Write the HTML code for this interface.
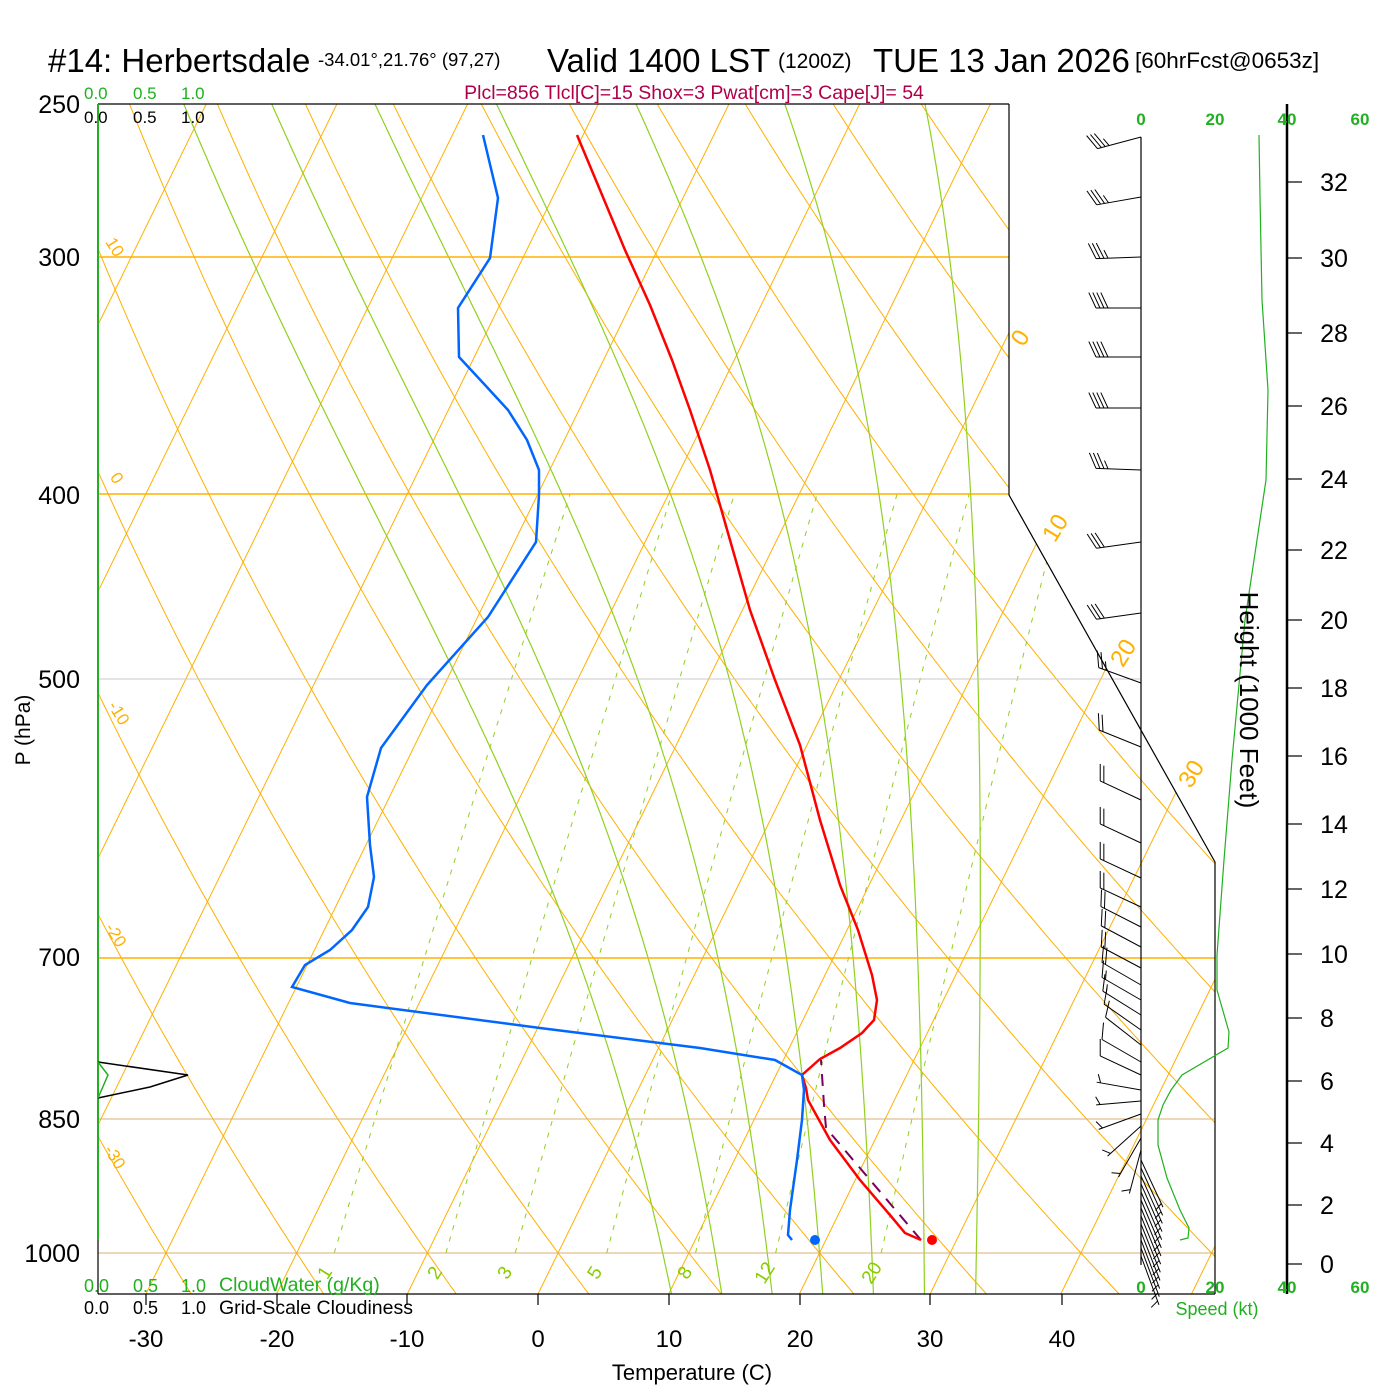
<!DOCTYPE html>
<html><head><meta charset="utf-8"><style>
html,body{margin:0;padding:0;background:#fff;}
svg{display:block;font-family:"Liberation Sans",sans-serif;}
</style></head><body>
<svg id="s" width="1400" height="1400" viewBox="0 0 1400 1400" xmlns="http://www.w3.org/2000/svg">
<defs><clipPath id="cp"><polygon points="98,104 1009,104 1009,495 1215,862 1215,1294 98,1294"/></clipPath></defs>
<g id="bg" clip-path="url(#cp)"></g>
<g stroke="#FFB000" fill="none">
<line x1="98" y1="257" x2="1009" y2="257" stroke-width="1.5"/>
<line x1="98" y1="494" x2="1009" y2="494" stroke-width="1.5"/>
<line x1="98" y1="679" x2="1140" y2="679" stroke="#c8c8c8" stroke-width="1"/>
<line x1="98" y1="958" x2="1215" y2="958" stroke-width="1.5"/>
<line x1="98" y1="1119" x2="1215" y2="1119" stroke="#d8b070" stroke-width="1"/>
<line x1="98" y1="1253" x2="1215" y2="1253" stroke="#d8b070" stroke-width="1"/>
</g>
<g stroke="#000" fill="none" stroke-width="1.2">
<line x1="98" y1="104" x2="1009" y2="104"/>
<polyline points="1009,104 1009,495 1215,862 1215,1294"/>
<line x1="98" y1="1294" x2="1215" y2="1294"/>
<line x1="98" y1="1240" x2="98" y2="1294"/>
<line x1="1141" y1="137" x2="1141" y2="1265"/>
<line x1="1287" y1="104" x2="1287" y2="1294" stroke-width="2.5"/>
</g>
<line x1="98" y1="104" x2="98" y2="1240" stroke="#20b020" stroke-width="2"/>
<g stroke="#000" stroke-width="1.2" id="ticks"></g>
<polyline points="98,1062 188,1075 150,1087 98,1098" fill="none" stroke="#000" stroke-width="1.5"/>
<polyline points="98,1062 108,1075 98,1098" fill="none" stroke="#20b020" stroke-width="1.5"/>
<g id="barbs" stroke="#000" stroke-width="1" fill="none"></g>
<polyline fill="none" stroke="#20b020" stroke-width="1.2" points="1259,135 1260,197 1262,300 1268,390 1266,480 1245,620 1232,760 1224,860 1217,955 1217,990 1229,1032 1228,1048 1182,1075 1171,1090 1163,1105 1158,1120 1158,1145 1167,1178 1180,1210 1189,1228 1188,1238 1180,1240"/>
<polyline fill="none" stroke="#780060" stroke-width="2" stroke-dasharray="12,9" points="921,1240 826,1128 824,1105 821,1060"/>
<polyline fill="none" stroke="#ff0000" stroke-width="2.5" points="577,135 600,190 625,250 650,305 672,360 690,410 710,470 730,540 750,610 775,680 800,745 820,820 840,885 858,930 872,975 877,1000 874,1020 862,1033 840,1048 820,1059 802,1075 806,1088 808,1100 830,1140 860,1180 890,1215 905,1233 921,1240"/>
<polyline fill="none" stroke="#0066ff" stroke-width="2.5" points="483,135 498,198 490,258 458,308 459,357 485,385 508,410 527,440 539,470 539,495 536,542 488,617 427,685 381,748 367,797 370,845 374,877 368,907 352,930 330,950 305,965 292,987 350,1003 540,1028 700,1048 775,1060 802,1075 804,1090 802,1120 797,1160 790,1210 788,1235 792,1240"/>
<circle cx="815" cy="1240" r="5" fill="#0066ff"/>
<circle cx="932" cy="1240" r="5" fill="#ff0000"/>
<g fill="#000">
<text x="48" y="72" font-size="33">#14: Herbertsdale</text>
<text x="318" y="66" font-size="18.5">-34.01°,21.76° (97,27)</text>
<text x="547" y="72" font-size="33">Valid 1400 LST</text>
<text x="778" y="68" font-size="21">(1200Z)</text>
<text x="873" y="72" font-size="33">TUE 13 Jan 2026</text>
<text x="1135" y="68" font-size="22.5">[60hrFcst@0653z]</text>
</g>
<text x="694" y="99" font-size="19.5" fill="#b0004a" text-anchor="middle">Plcl=856 Tlcl[C]=15 Shox=3 Pwat[cm]=3 Cape[J]= 54</text>
<g font-size="25" text-anchor="end" fill="#000">
<text x="80" y="113">250</text><text x="80" y="266">300</text><text x="80" y="504">400</text>
<text x="80" y="688">500</text><text x="80" y="966">700</text><text x="80" y="1128">850</text><text x="80" y="1262">1000</text>
</g>
<text transform="translate(30,730) rotate(-90)" font-size="21" text-anchor="middle">P (hPa)</text>
<g font-size="17" fill="#20b020"><text x="84" y="99">0.0</text><text x="133" y="99">0.5</text><text x="181" y="99">1.0</text></g>
<g font-size="17" fill="#000"><text x="84" y="123">0.0</text><text x="133" y="123">0.5</text><text x="181" y="123">1.0</text></g>
<g font-size="18" fill="#20b020"><text x="84" y="1292">0.0</text><text x="133" y="1292">0.5</text><text x="181" y="1292">1.0</text><text x="219" y="1291" font-size="19.5">CloudWater (g/Kg)</text></g>
<g font-size="18" fill="#000"><text x="84" y="1314">0.0</text><text x="133" y="1314">0.5</text><text x="181" y="1314">1.0</text><text x="219" y="1314" font-size="19.5">Grid-Scale Cloudiness</text></g>
<g font-size="24" fill="#000" text-anchor="middle">
<text x="146" y="1347">-30</text><text x="277" y="1347">-20</text><text x="407" y="1347">-10</text><text x="538" y="1347">0</text>
<text x="669" y="1347">10</text><text x="800" y="1347">20</text><text x="930" y="1347">30</text><text x="1062" y="1347">40</text>
</g>
<text x="692" y="1380" font-size="22" text-anchor="middle">Temperature (C)</text>
<g font-size="17" fill="#20b020" text-anchor="middle" font-weight="bold">
<text x="1141" y="125">0</text><text x="1215" y="125">20</text><text x="1287" y="125">40</text><text x="1360" y="125">60</text>
<text x="1141" y="1293">0</text><text x="1215" y="1293">20</text><text x="1287" y="1293">40</text><text x="1360" y="1293">60</text>
</g>
<text x="1217" y="1315" font-size="18" fill="#20b020" text-anchor="middle">Speed (kt)</text>
<g font-size="25" fill="#000" text-anchor="middle">
<text x="1334" y="191">32</text><text x="1334" y="267">30</text><text x="1334" y="342">28</text><text x="1334" y="415">26</text>
<text x="1334" y="488">24</text><text x="1334" y="559">22</text><text x="1334" y="629">20</text><text x="1334" y="697">18</text>
<text x="1334" y="765">16</text><text x="1334" y="833">14</text><text x="1334" y="898">12</text><text x="1334" y="963">10</text>
<text x="1327" y="1027">8</text><text x="1327" y="1090">6</text><text x="1327" y="1152">4</text><text x="1327" y="1214">2</text><text x="1327" y="1273">0</text>
</g>
<text transform="translate(1240,700) rotate(90)" font-size="26" text-anchor="middle">Height (1000 Feet)</text>
<g fill="#FFB000" text-anchor="middle">
<text transform="translate(1027,342) rotate(-58)" font-size="24">0</text>
<text transform="translate(1062,532) rotate(-58)" font-size="24">10</text>
<text transform="translate(1130,657) rotate(-58)" font-size="24">20</text>
<text transform="translate(1198,778) rotate(-58)" font-size="24">30</text>
<text transform="translate(110,250) rotate(58)" font-size="17">10</text>
<text transform="translate(112,481) rotate(58)" font-size="17">0</text>
<text transform="translate(114,716) rotate(58)" font-size="17">-10</text>
<text transform="translate(111,938) rotate(58)" font-size="17">-20</text>
<text transform="translate(110,1160) rotate(58)" font-size="17">-30</text>
</g>
<g fill="#88cc00" font-size="19" text-anchor="middle">
<text transform="translate(330,1276) rotate(-58)">1</text>
<text transform="translate(440,1276) rotate(-58)">2</text>
<text transform="translate(510,1276) rotate(-58)">3</text>
<text transform="translate(600,1276) rotate(-58)">5</text>
<text transform="translate(690,1276) rotate(-58)">8</text>
<text transform="translate(770,1276) rotate(-58)">12</text>
<text transform="translate(877,1276) rotate(-58)">20</text>
</g>
</svg>
<script>
(function(){
var NS="http://www.w3.org/2000/svg";
function Y(p){return 104+828.8*Math.log(p/250);}
function X(T,y){return 538+13.07*T+0.49*(1294-y);}
var bg=document.getElementById('bg');
function pl(pts,col,w,dash){var e=document.createElementNS(NS,'polyline');e.setAttribute('points',pts.map(function(a){return a[0].toFixed(1)+','+a[1].toFixed(1)}).join(' '));e.setAttribute('fill','none');e.setAttribute('stroke',col);e.setAttribute('stroke-width',w);if(dash)e.setAttribute('stroke-dasharray',dash);bg.appendChild(e);}
var orange="#FFB000";
for(var T=-130;T<=60;T+=10){pl([[X(T,1294),1294],[X(T,104),104]],orange,1);}
for(var th=-40;th<=220;th+=10){var pts=[];for(var p=1060;p>=240;p-=10){var t=(th+273.15)*Math.pow(p/1000,0.2857)-273.15;var y=Y(p);pts.push([X(t,y),y]);}pl(pts,orange,1);}
function es(t){return 6.112*Math.exp(17.67*t/(t+243.5));}
for(var t0=8;t0<=32;t0+=4){var pts=[];
 var Td=t0+273.15,lp=Math.log(1000);
 for(var i=0;i<40;i++){var e=es(Td-273.15),p=Math.exp(lp),rs=0.622*e/(p-e);var g=(287*Td+2.5e6*rs)/(1004+2.5e6*2.5e6*rs*0.622/(287*Td*Td));Td+=g*0.00122;lp+=0.00122;}
 var T=Td;lp=Math.log(1050);
 while(lp>Math.log(240)){var p=Math.exp(lp);var e=es(T-273.15);var rs=0.622*e/(p-e);var g=(287*T+2.5e6*rs)/(1004+2.5e6*2.5e6*rs*0.622/(287*T*T));var y=Y(p);pts.push([X(T-273.15,y),y]);T-=g*0.005;lp-=0.005;}
 pl(pts,"#90d020",1.2);}
[1,2,3,5,8,12,20].forEach(function(w){var pts=[];for(var p=1000;p>=400;p-=10){var e=w*p/(622+w);var l=Math.log(e/6.112);var td=243.5*l/(17.67-l);var y=Y(p);pts.push([X(td,y),y]);}pl(pts,"#90d020",1,"5,7");});
var tk=document.getElementById('ticks');
function ln(x1,y1,x2,y2,par){var e=document.createElementNS(NS,'line');e.setAttribute('x1',x1);e.setAttribute('y1',y1);e.setAttribute('x2',x2);e.setAttribute('y2',y2);(par||tk).appendChild(e);}
[146,277,407,538,669,800,930,1062].forEach(function(x){ln(x,1294,x,1305);});
[182,258,333,406,479,550,620,688,756,824,889,954,1018,1081,1143,1205,1264].forEach(function(y){ln(1287,y,1302,y);});
var bb=document.getElementById('barbs');
function barb(by,d,spd,L){L=L||45;var r=d*Math.PI/180;var ux=Math.sin(r),uy=-Math.cos(r);var tx=1141+L*ux,ty=by+L*uy;ln(1141,by,tx,ty,bb);
 var a=Math.atan2(uy,ux)+65*Math.PI/180;var bx=Math.cos(a),byy=Math.sin(a);var n=Math.floor(spd/10),h=(spd%10)>=5?1:0;var pos=0;
 for(var i=0;i<n;i++){var sx=tx-ux*pos,sy=ty-uy*pos;ln(sx,sy,sx+bx*17,sy+byy*17,bb);pos+=4;}
 if(h){if(n==0)pos=4;var sx=tx-ux*pos,sy=ty-uy*pos;ln(sx,sy,sx+bx*9,sy+byy*9,bb);}}
var B=[[137,255,35],[197,260,35],[257,268,35],[308,270,40],[357,270,40],[408,270,40],[470,272,35],[542,262,30],[613,262,30],[683,290,25],[747,292,20],[800,295,20],[843,295,20],[878,295,20],[907,295,20],[927,297,20],[947,298,20],[968,298,20],[985,300,20],[1000,300,18],[1015,302,15],[1030,305,12],[1045,308,10],[1062,300,10],[1075,295,10],[1090,280,8],[1101,265,5],[1114,250,5],[1126,228,5],[1138,210,5],[1150,195,5]];
B.forEach(function(b){barb(b[0],b[1],b[2]);});
for(var y=1160;y<=1262;y+=8){barb(y,155+(y-1160)*0.05,8,52);}
})();
</script>
</body></html>
